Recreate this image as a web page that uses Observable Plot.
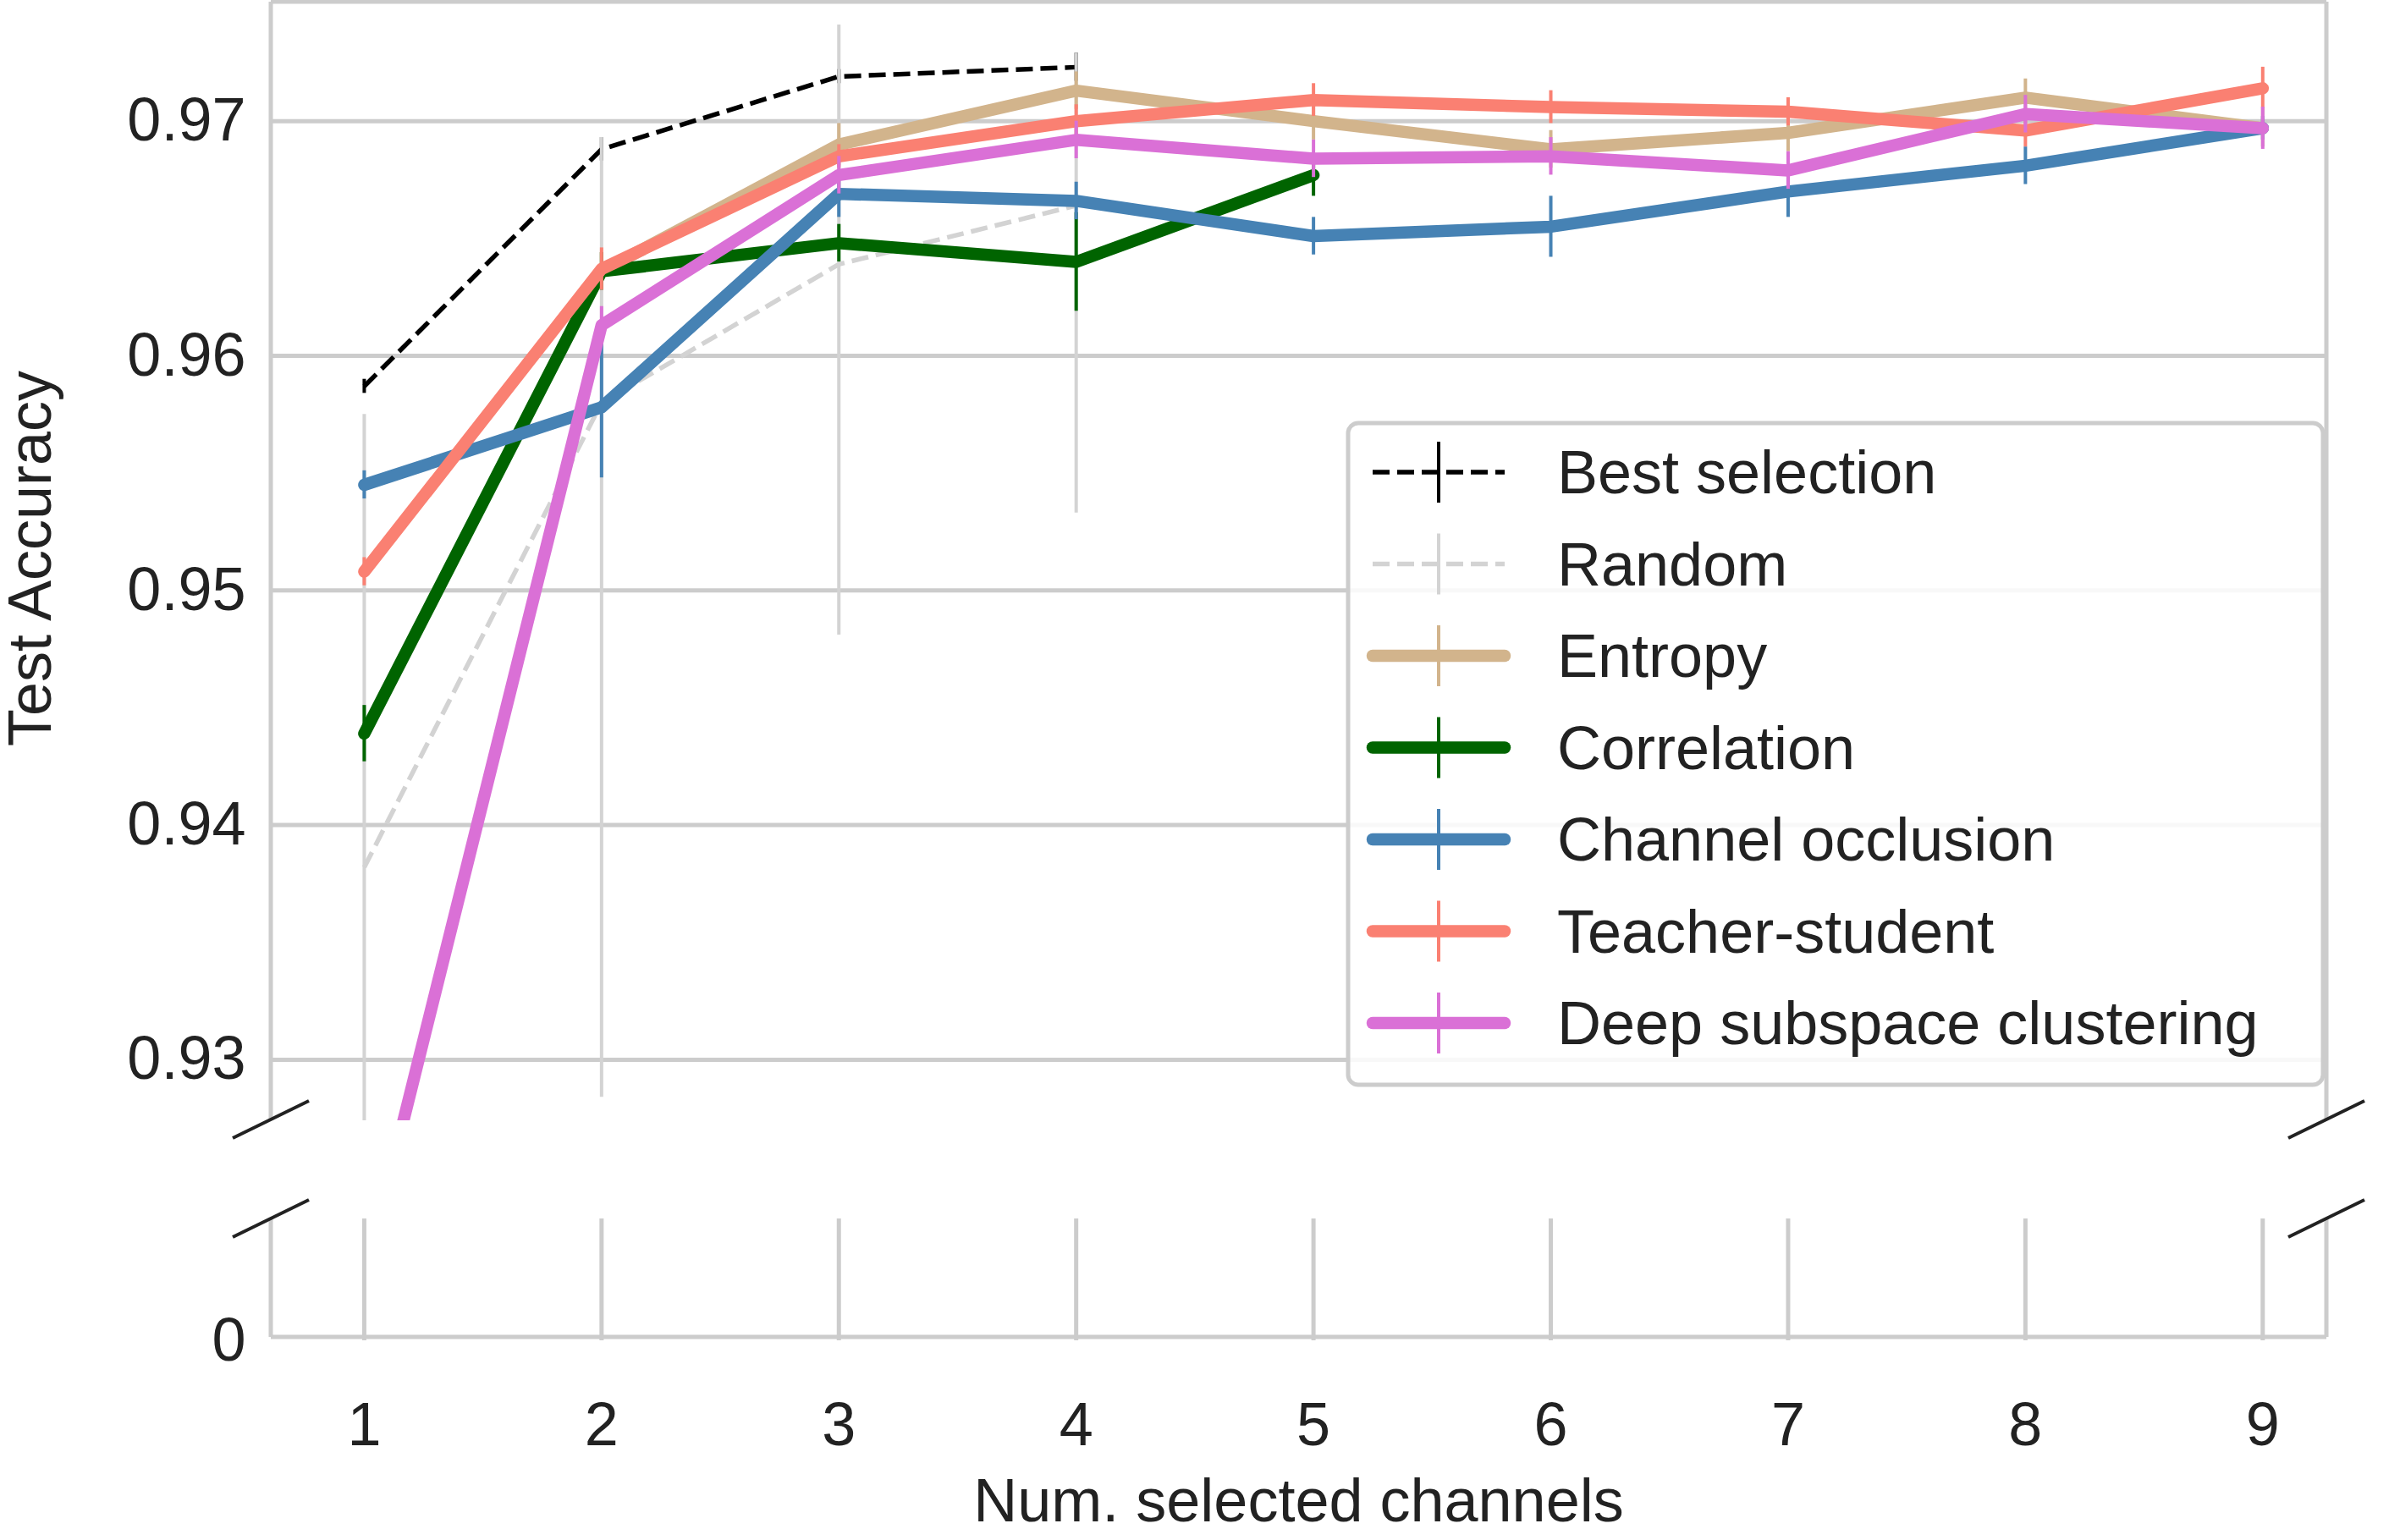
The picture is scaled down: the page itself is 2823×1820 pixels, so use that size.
<!DOCTYPE html>
<html>
<head>
<meta charset="utf-8">
<script src="https://cdn.jsdelivr.net/npm/d3@7"></script>
<script src="https://cdn.jsdelivr.net/npm/@observablehq/plot@0.6"></script>
<style>
  body { margin: 0; background: #fff; font-family: "Liberation Sans", Arial, sans-serif; }
  #wrap { position: relative; width: 2823px; height: 1820px; }
  #top, #bottom { position: absolute; left: 0; }
  #top { top: 0; }
  #bottom { top: 1436px; }
  #legend, #deco { position: absolute; left: 0; top: 0; }
</style>
</head>
<body>
<div id="wrap">
  <div id="top"></div>
  <div id="bottom"></div>
  <svg id="deco" width="2823" height="1820"></svg>
  <svg id="legend" width="2823" height="1820"></svg>
</div>
<script>
const channels = [1, 2, 3, 4, 5, 6, 7, 8, 9];
const yTicks = [0.93, 0.94, 0.95, 0.96, 0.97];

const seriesNames = ["Best selection", "Random", "Entropy", "Correlation",
  "Channel occlusion", "Teacher-student", "Deep subspace clustering"];
const seriesColors = ["#000000", "#d3d3d3", "#d2b48c", "#006400", "#4682b4", "#fa8072", "#da70d6"];

const bestMean = [0.9587, 0.9688, 0.9719, 0.9723, null, null, null, null, null];
const bestErr = [0.0003, 0.0005, 0.0003, 0.0006, null, null, null, null, null];
const randomMean = [0.9382, 0.9580, 0.9639, 0.9664, null, null, null, null, null];
const randomLow = [0.9200, 0.9284, 0.9481, 0.9533, null, null, null, null, null];
const randomHigh = [0.9575, 0.9693, 0.9741, 0.9729, null, null, null, null, null];
const entropyMean = [null, 0.9636, 0.9690, 0.9713, 0.9700, 0.9688, 0.9695, 0.9710, 0.9697];
const entropyErr = [null, 0.0008, 0.0009, 0.0008, 0.0008, 0.0008, 0.0008, 0.0008, 0.0008];
const correlationMean = [0.9439, 0.9636, 0.9648, 0.9640, 0.9677, null, null, null, null];
const correlationErr = [0.0012, 0.0008, 0.0008, 0.0021, 0.0009, null, null, null, null];
const occlusionMean = [0.9545, 0.9578, 0.9669, 0.9666, 0.9651, 0.9655, 0.9670, 0.9681, 0.9697];
const occlusionErr = [0.0006, 0.0030, 0.0010, 0.0008, 0.0008, 0.0013, 0.0011, 0.0008, 0.0005];
const teacherMean = [0.9508, 0.9637, 0.9685, 0.9700, 0.9709, 0.9706, 0.9704, 0.9696, 0.9714];
const teacherErr = [0.0006, 0.0009, 0.0005, 0.0007, 0.0007, 0.0007, 0.0006, 0.0007, 0.0009];
const dscMean = [0.9207, 0.9613, 0.9677, 0.9692, 0.9684, 0.9685, 0.9679, 0.9703, 0.9697];
const dscErr = [0.0008, 0.0008, 0.0008, 0.0008, 0.0008, 0.0008, 0.0008, 0.0008, 0.0009];

const seriesMeans = [bestMean, randomMean, entropyMean, correlationMean, occlusionMean, teacherMean, dscMean];
const seriesErrs = [bestErr, null, entropyErr, correlationErr, occlusionErr, teacherErr, dscErr];

const rows = [];
seriesNames.forEach((name, s) => {
  channels.forEach((c, i) => {
    const m = seriesMeans[s][i];
    if (m == null) return;
    let lo, hi;
    if (s === 1) { lo = randomLow[i]; hi = randomHigh[i]; }
    else { lo = m - seriesErrs[s][i]; hi = m + seriesErrs[s][i]; }
    rows.push({ series: name, s, x: c, y: m, lo, hi });
  });
});

const font = "Liberation Sans, Arial, sans-serif";
const grid = "#cccccc";
const xDomain = [0.608, 9.27];
const W = 2823, ML = 320, MR = 74;
const FS = 72;

const lineMarks = [];
seriesNames.forEach((name, s) => {
  const d = rows.filter(r => r.s === s);
  const thin = s < 2;
  lineMarks.push(Plot.ruleX(d, { x: "x", y1: "lo", y2: "hi", stroke: seriesColors[s], strokeWidth: 4 }));
  lineMarks.push(Plot.line(d, {
    x: "x", y: "y", stroke: seriesColors[s],
    strokeWidth: thin ? 5.5 : 14.5,
    strokeDasharray: thin ? "20,9" : null,
    strokeLinecap: thin ? "butt" : "round", strokeLinejoin: "round"
  }));
});

const topPlot = Plot.plot({
  width: W, height: 1330,
  marginLeft: ML, marginRight: MR, marginTop: 4, marginBottom: 6,
  style: { fontFamily: font, fontSize: FS + "px", background: "transparent", color: "#222" },
  x: { domain: xDomain, axis: null },
  y: { domain: [0.9274, 0.975], axis: null },
  clip: true,
  marks: [
    Plot.ruleY(yTicks, { stroke: grid, strokeWidth: 5 }),
    ...lineMarks,
    Plot.axisY({ ticks: yTicks, tickFormat: d3.format(".2f"), tickSize: 0, tickPadding: 30, fontSize: FS, label: null })
  ]
});
document.getElementById("top").append(topPlot);

const bottomPlot = Plot.plot({
  width: W, height: 384,
  marginLeft: ML, marginRight: MR, marginTop: 4, marginBottom: 236,
  style: { fontFamily: font, fontSize: FS + "px", background: "transparent", color: "#222" },
  x: { domain: xDomain, axis: null },
  y: { domain: [0, 1], axis: null },
  marks: [
    Plot.ruleX(channels, { stroke: grid, strokeWidth: 5 }),
    Plot.axisX({ ticks: channels, tickSize: 0, tickPadding: 72, fontSize: FS, label: null }),
    Plot.axisY({ ticks: [0], tickFormat: d3.format("d"), tickSize: 0, tickPadding: 30, fontSize: FS, label: null })
  ]
});
document.getElementById("bottom").append(bottomPlot);

// spines, axis breaks and axis titles
const deco = d3.select("#deco");
const xL = ML, xR = W - MR, yT = 2, yB1 = 1323, yB2 = 1436 + 144;
const ln = (a, b, c, d, w, col) => deco.append("line").attr("x1", a).attr("y1", b).attr("x2", c).attr("y2", d)
  .attr("stroke", col || grid).attr("stroke-width", w || 5);
ln(xL, yT, xR, yT); ln(xL, yT, xL, yB1); ln(xR, yT, xR, yB1);
ln(xL, 1440, xL, yB2); ln(xR, 1440, xR, yB2); ln(xL, yB2, xR, yB2);
[[xL, 1323], [xL, 1440], [xR, 1323], [xR, 1440]].forEach(([x, y]) =>
  ln(x - 45, y + 22, x + 45, y - 22, 4, "#222"));
deco.append("text").attr("x", (xL + xR) / 2).attr("y", 1798).attr("text-anchor", "middle")
  .attr("font-family", font).attr("font-size", FS).attr("fill", "#222").text("Num. selected channels");
deco.append("text").attr("transform", "translate(60,660) rotate(-90)").attr("text-anchor", "middle")
  .attr("font-family", font).attr("font-size", FS).attr("fill", "#222").text("Test Accuracy");

// legend
const lg = d3.select("#legend");
lg.append("rect").attr("x", 1593).attr("y", 500).attr("width", 1152).attr("height", 782).attr("rx", 12)
  .attr("fill", "rgba(255,255,255,0.85)").attr("stroke", "#cccccc").attr("stroke-width", 5);
seriesNames.forEach((name, s) => {
  const y = 558 + 108.5 * s, thin = s < 2;
  lg.append("line").attr("x1", 1700).attr("x2", 1700).attr("y1", y - 36).attr("y2", y + 36)
    .attr("stroke", seriesColors[s]).attr("stroke-width", 4);
  lg.append("line").attr("x1", 1622).attr("x2", 1778).attr("y1", y).attr("y2", y)
    .attr("stroke", seriesColors[s]).attr("stroke-width", thin ? 5.5 : 14.5)
    .attr("stroke-dasharray", thin ? "20,9" : null).attr("stroke-linecap", thin ? "butt" : "round");
  lg.append("text").attr("x", 1840).attr("y", y + 25).attr("font-family", font).attr("font-size", FS)
    .attr("fill", "#222").text(name);
});
</script>
</body>
</html>
